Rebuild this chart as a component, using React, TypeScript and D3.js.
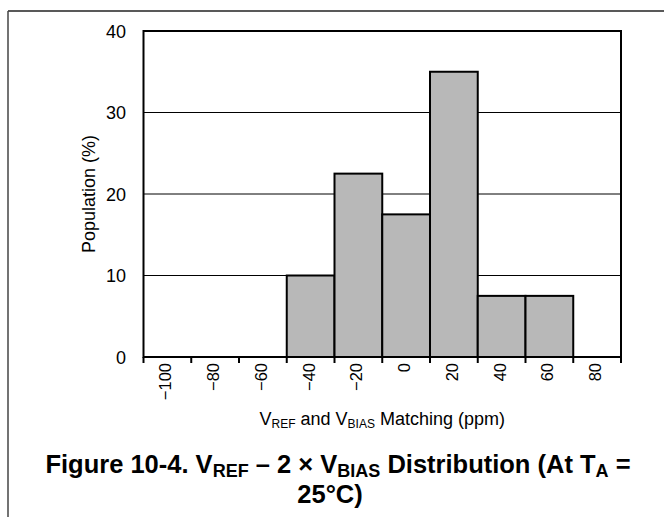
import React from "react";
import * as d3 from "d3";

const binCenters = [-100, -80, -60, -40, -20, 0, 20, 40, 60, 80];
const population = [0, 0, 0, 10, 22.5, 17.5, 35, 7.5, 7.5, 0];
const yTicks = [0, 10, 20, 30, 40];
const binWidth = 20;

const W = 664;
const H = 517;
const M = { left: 143.5, right: 621, top: 31, bottom: 357 };
const FONT = "'Liberation Sans', Arial, Helvetica, sans-serif";

export default function App() {
  const x = d3
    .scaleLinear()
    .domain([binCenters[0] - binWidth / 2, binCenters[binCenters.length - 1] + binWidth / 2])
    .range([M.left, M.right]);
  const y = d3.scaleLinear().domain([0, 40]).range([M.bottom, M.top]);
  const edges = d3.range(binCenters.length + 1).map((i) => binCenters[0] - binWidth / 2 + i * binWidth);
  const fmt = (v: number) => (v < 0 ? "\u2212" + Math.abs(v) : String(v));

  return (
    <svg
      width={W}
      height={H}
      viewBox={`0 0 ${W} ${H}`}
      style={{ position: "absolute", left: 0, top: 0, background: "#fff" }}
      fontFamily={FONT}
    >
      <rect x={0} y={0} width={W} height={H} fill="#fff" />
      {/* outer frame */}
      <line x1={8} x2={W} y1={11} y2={11} stroke="#222" strokeWidth={1.5} />
      <line x1={8} x2={8} y1={11} y2={H} stroke="#444" strokeWidth={1.5} />

      {/* gridlines */}
      {yTicks
        .filter((t) => t > 0 && t < 40)
        .map((t) => (
          <line key={t} x1={M.left} x2={M.right} y1={y(t)} y2={y(t)} stroke="#000" strokeWidth={1} />
        ))}

      {/* bars */}
      {binCenters.map((c, i) =>
        population[i] > 0 ? (
          <rect
            key={c}
            x={x(c - binWidth / 2)}
            y={y(population[i])}
            width={x(c + binWidth / 2) - x(c - binWidth / 2)}
            height={y(0) - y(population[i])}
            fill="#b8b8b8"
            stroke="#000"
            strokeWidth={2}
          />
        ) : null
      )}

      {/* plot border */}
      <rect
        x={M.left}
        y={M.top}
        width={M.right - M.left}
        height={M.bottom - M.top}
        fill="none"
        stroke="#000"
        strokeWidth={2}
      />

      {/* x ticks */}
      {edges.map((e) => (
        <line key={e} x1={x(e)} x2={x(e)} y1={M.bottom} y2={M.bottom + 6} stroke="#000" strokeWidth={2} />
      ))}
      {binCenters.map((c) => (
        <text
          key={c}
          transform={`translate(${x(c) + 4},${M.bottom + 6}) rotate(-90)`}
          textAnchor="end"
          fontSize={16.5}
          fill="#000"
        >
          {fmt(c)}
        </text>
      ))}

      {/* y ticks */}
      {yTicks.map((t) => (
        <text key={t} x={126} y={y(t) + 6.5} textAnchor="end" fontSize={18} fill="#000">
          {t}
        </text>
      ))}

      {/* y title */}
      <text transform={`translate(95,${y(20)}) rotate(-90)`} textAnchor="middle" fontSize={18} fill="#000">
        Population (%)
      </text>

      {/* x title */}
      <text x={(M.left + M.right) / 2} y={425} textAnchor="middle" fontSize={18} fill="#000">
        V<tspan fontSize={12} dy={3}>REF</tspan>
        <tspan dy={-3}> and V</tspan>
        <tspan fontSize={12} dy={3}>BIAS</tspan>
        <tspan dy={-3}> Matching (ppm)</tspan>
      </text>

      {/* caption */}
      <text x={338} y={473} textAnchor="middle" fontSize={25.5} fontWeight="bold" fill="#000">
        Figure 10-4. V<tspan fontSize={18} dy={4}>REF</tspan>
        <tspan dy={-4}> {"\u2013"} 2 {"\u00d7"} V</tspan>
        <tspan fontSize={18} dy={4}>BIAS</tspan>
        <tspan dy={-4}> Distribution (At T</tspan>
        <tspan fontSize={18} dy={4}>A</tspan>
        <tspan dy={-4}> =</tspan>
      </text>
      <text x={330} y={503} textAnchor="middle" fontSize={25.5} fontWeight="bold" fill="#000">
        25°C)
      </text>
    </svg>
  );
}
